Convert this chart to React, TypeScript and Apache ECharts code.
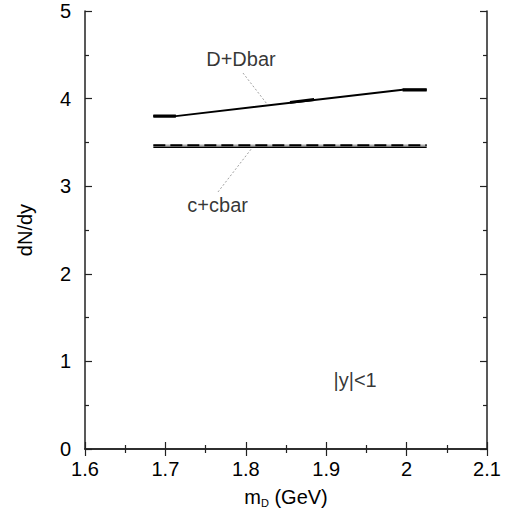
import React, { useEffect, useRef } from "react";
import * as echarts from "echarts";

// D+Dbar curve (x = m_D in GeV, y = dN/dy)
const dMass = [1.685, 1.713, 1.995, 2.025];
const dYield = [3.8, 3.8, 4.1, 4.1];
// thicker overlapping pieces of the D+Dbar curve
const dThick1X = [1.685, 1.713];
const dThick1Y = [3.8, 3.8];
const dThick2X = [1.855, 1.885];
const dThick2Y = [3.957, 3.989];
const dThick3X = [1.995, 2.025];
const dThick3Y = [4.1, 4.1];
// c+cbar lines
const cMass = [1.685, 2.025];
const cYieldSolid = [3.444, 3.444];
const cYieldDashed = [3.467, 3.467];
// leader lines of annotations
const dLeaderX = [1.7965, 1.8264];
const dLeaderY = [4.292, 3.938];
const cLeaderX = [1.7654, 1.8077];
const cLeaderY = [2.934, 3.436];
// annotation labels
const labelTexts = ["D+Dbar", "c+cbar", "|y|<1"];
const labelX = [1.794, 1.765, 1.936];
const labelY = [4.45, 2.78, 0.79];

const FONT = "Liberation Sans, Arial, Helvetica, sans-serif";
const FS = 20;

function pairs(xs: number[], ys: number[]) {
  return xs.map((x, i) => [x, ys[i]]);
}

export default function App() {
  const ref = useRef<HTMLDivElement>(null);
  useEffect(() => {
    if (!ref.current) return;
    const chart = echarts.init(ref.current, undefined, { renderer: "svg" });
    const axisColor = "#222";
    const baseAxis = {
      type: "value" as const,
      axisLine: { show: true, lineStyle: { color: axisColor, width: 1.5 } },
      axisTick: { show: true, inside: true, length: 7, lineStyle: { color: axisColor, width: 1.2 } },
      minorTick: { show: true, splitNumber: 2, length: 4, lineStyle: { color: axisColor, width: 1.2 } },
      splitLine: { show: false },
      minorSplitLine: { show: false },
    };
    const lineSeries = (data: number[][], color: string, width: number, type: any = "solid") => ({
      type: "line" as const,
      data,
      symbol: "none",
      silent: true,
      lineStyle: { color, width, type },
      z: 3,
    });
    chart.setOption({
      animation: false,
      grid: { left: 85, right: 21, top: 11, bottom: 65 },
      xAxis: [
        {
          ...baseAxis,
          min: 1.6,
          max: 2.1,
          interval: 0.1,
          position: "bottom",
          axisLabel: { show: true, color: "#000", fontSize: FS, fontFamily: FONT, margin: 10 },
          name: "{m|m}{s|D}{m| (GeV)}",
          nameLocation: "middle",
          nameGap: 37,
          nameTextStyle: {
            fontFamily: FONT,
            color: "#000",
            rich: {
              m: { fontSize: FS, fontFamily: FONT, color: "#000", lineHeight: 22, verticalAlign: "middle" },
              s: { fontSize: 11, fontFamily: FONT, color: "#000", lineHeight: 11, verticalAlign: "bottom", padding: [10, 0, 0, 0] },
            },
          },
        },
        {
          ...baseAxis,
          min: 1.6,
          max: 2.1,
          interval: 0.1,
          position: "top",
          axisLabel: { show: false },
        },
      ],
      yAxis: [
        {
          ...baseAxis,
          min: 0,
          max: 5,
          interval: 1,
          position: "left",
          axisLabel: { show: true, color: "#000", fontSize: FS, fontFamily: FONT, margin: 14 },
          name: "dN/dy",
          nameLocation: "middle",
          nameGap: 50,
          nameTextStyle: { fontSize: FS, fontFamily: FONT, color: "#000" },
        },
        {
          ...baseAxis,
          min: 0,
          max: 5,
          interval: 1,
          position: "right",
          axisLabel: { show: false },
        },
      ],
      series: [
        lineSeries(pairs(cMass, cYieldDashed), "#aaa", 1.5),
        lineSeries(pairs(cMass, cYieldDashed), "#000", 2, [12, 5]),
        lineSeries(pairs(cMass, cYieldSolid), "#000", 1.5),
        lineSeries(pairs(dMass, dYield), "#000", 2),
        lineSeries(pairs(dThick1X, dThick1Y), "#000", 3.2),
        lineSeries(pairs(dThick2X, dThick2Y), "#000", 3),
        lineSeries(pairs(dThick3X, dThick3Y), "#000", 3.2),
        lineSeries(pairs(dLeaderX, dLeaderY), "#888", 0.8, [2, 2]),
        lineSeries(pairs(cLeaderX, cLeaderY), "#888", 0.8, [2, 2]),
        {
          type: "scatter",
          silent: true,
          symbolSize: 0,
          data: labelTexts.map((t, i) => ({ value: [labelX[i], labelY[i]], name: t })),
          label: {
            show: true,
            position: "inside",
            formatter: (p: any) => p.name,
            fontSize: FS,
            fontFamily: FONT,
            color: "#000",
          },
        },
      ],
    });
    return () => chart.dispose();
  }, []);
  return (
    <div
      ref={ref}
      style={{ position: "fixed", left: 0, top: 0, width: 508, height: 514, background: "#fff" }}
    />
  );
}
